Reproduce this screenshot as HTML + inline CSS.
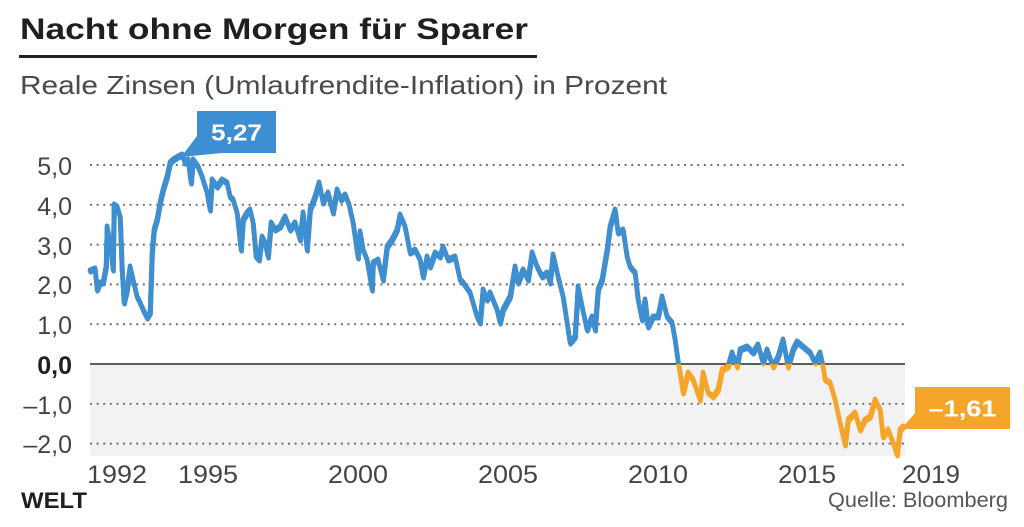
<!DOCTYPE html>
<html>
<head>
<meta charset="utf-8">
<style>
  html, body { margin:0; padding:0; background:#fff; }
  svg { display:block; }
  text { font-family: "Liberation Sans", "DejaVu Sans", sans-serif; }
</style>
</head>
<body>
<svg width="1024" height="527" viewBox="0 0 1024 527" xmlns="http://www.w3.org/2000/svg">
  <defs>
    <clipPath id="above"><rect x="0" y="0" width="1024" height="364"/></clipPath>
    <polyline id="ser" points="90,271 95,269 97,290 100,283 103,283 106,267 107,227 110,243 113,270 114,205 117,207 120,217 122,270 124,303 127,290 130,267 133,280 137,297 140,303 143,310 147,318 150,313 152,253 154,230 157,220 160,203 163,190 167,177 170,163 173,160 178,157 182,155 185,163 188,160 191,183 193,160 198,167 202,177 207,193 210,210 212,180 217,187 222,180 227,183 230,197 233,200 237,213 241,250 243,220 247,213 250,210 253,223 256,257 259,260 262,237 265,243 268,257 271,223 275,230 280,227 285,217 290,230 295,223 300,240 303,213 307,250 310,210 315,197 319,183 323,203 328,193 333,213 337,190 341,200 345,195 349,205 353,223 358,258 360,232 363,250 367,260 372,290 373,263 378,260 383,280 387,247 392,240 397,230 400,215 405,227 410,253 415,250 420,260 423,277 427,257 430,267 435,253 440,257 443,247 448,260 455,257 460,280 463,283 470,293 477,317 480,323 483,290 487,300 490,293 497,310 500,323 503,310 510,297 515,267 518,283 523,270 528,280 532,253 537,267 542,277 547,273 550,283 553,255 558,277 563,297 567,323 570,343 575,337 578,287 582,307 587,330 592,317 595,330 598,290 602,280 607,250 610,227 615,210 618,233 623,230 627,257 630,267 635,273 638,300 642,320 645,300 648,327 653,317 658,317 662,297 667,317 672,323 675,340 678,362 680,373 683,393 688,373 693,380 700,400 703,373 708,393 713,397 718,390 722,370 728,367 732,353 737,367 740,350 747,347 753,353 758,345 763,363 767,350 773,367 778,357 783,340 788,367 793,350 797,342 803,347 810,353 815,363 820,353 823,367 825,380 830,383 835,400 840,423 845,445 848,420 855,413 860,430 865,420 870,417 875,400 880,410 883,437 888,430 893,443 897,455 900,430 903,427"/>
    <g id="band">
      <use href="#ser" transform="translate(0,-1.3)"/>
      <use href="#ser"/>
      <use href="#ser" transform="translate(0.6,1.3)"/>
    </g>
  </defs>

  <!-- Title -->
  <text x="20" y="39" font-size="30" font-weight="bold" fill="#1f1f1f" textLength="508" lengthAdjust="spacingAndGlyphs">Nacht ohne Morgen für Sparer</text>
  <rect x="19" y="55" width="518" height="3" fill="#222"/>
  <text x="20" y="94" font-size="26" fill="#4a4a4a" textLength="647" lengthAdjust="spacingAndGlyphs">Reale Zinsen (Umlaufrendite-Inflation) in Prozent</text>

  <!-- shaded negative area -->
  <rect x="90" y="364" width="815" height="92" fill="#f2f2f2"/>

  <!-- grid -->
  <g stroke="#6f6f6f" stroke-width="2.2" stroke-linecap="round" stroke-dasharray="0.1 6.5" fill="none">
    <line x1="91" y1="165" x2="905" y2="165"/>
    <line x1="91" y1="204.8" x2="905" y2="204.8"/>
    <line x1="91" y1="244.6" x2="905" y2="244.6"/>
    <line x1="91" y1="284.4" x2="905" y2="284.4"/>
    <line x1="91" y1="324.2" x2="905" y2="324.2"/>
    <line x1="91" y1="403.8" x2="905" y2="403.8"/>
    <line x1="91" y1="443.6" x2="905" y2="443.6"/>
  </g>
  <line x1="90" y1="364" x2="905" y2="364" stroke="#2a2a2a" stroke-width="1.6"/>

  <!-- y labels -->
  <g font-size="25" fill="#444" text-anchor="end">
    <text x="72" y="175">5,0</text>
    <text x="72" y="215">4,0</text>
    <text x="72" y="255">3,0</text>
    <text x="72" y="294">2,0</text>
    <text x="72" y="334">1,0</text>
    <text x="72" y="374" font-weight="bold" fill="#1f1f1f">0,0</text>
    <text x="72" y="414">–1,0</text>
    <text x="72" y="453">–2,0</text>
  </g>

  <!-- x labels -->
  <g font-size="25" fill="#444" text-anchor="middle">
    <text x="117" y="483" textLength="60" lengthAdjust="spacingAndGlyphs">1992</text>
    <text x="208" y="483" textLength="60" lengthAdjust="spacingAndGlyphs">1995</text>
    <text x="358" y="483" textLength="60" lengthAdjust="spacingAndGlyphs">2000</text>
    <text x="508" y="483" textLength="60" lengthAdjust="spacingAndGlyphs">2005</text>
    <text x="658" y="483" textLength="60" lengthAdjust="spacingAndGlyphs">2010</text>
    <text x="807" y="483" textLength="58" lengthAdjust="spacingAndGlyphs">2015</text>
    <text x="931" y="483" textLength="58" lengthAdjust="spacingAndGlyphs">2019</text>
  </g>

  <!-- series -->
  <g fill="none" stroke-width="4.4" stroke-linejoin="round" stroke-linecap="round">
    <use href="#band" stroke="#f4a52a"/>
    <use href="#band" stroke="#3d8fd1" clip-path="url(#above)"/>
  </g>

  <!-- annotation 5,27 -->
  <polygon points="197,136 222,153 181,157" fill="#3d8fd1"/>
  <rect x="197" y="111" width="79" height="42" fill="#3d8fd1"/>
  <text x="236.5" y="140.5" font-size="23" font-weight="bold" fill="#fff" text-anchor="middle" textLength="51" lengthAdjust="spacingAndGlyphs">5,27</text>

  <!-- annotation -1,61 -->
  <polygon points="916,412 916,429 901,429" fill="#f4a52a"/>
  <rect x="915" y="387" width="95" height="42" fill="#f4a52a"/>
  <text x="962.5" y="416.5" font-size="23" font-weight="bold" fill="#fff" text-anchor="middle" textLength="68" lengthAdjust="spacingAndGlyphs">–1,61</text>

  <!-- footer -->
  <text x="21" y="508" font-size="22" font-weight="bold" fill="#1f1f1f" textLength="66" lengthAdjust="spacingAndGlyphs">WELT</text>
  <text x="828" y="507" font-size="21" fill="#555" textLength="180" lengthAdjust="spacingAndGlyphs">Quelle: Bloomberg</text>
</svg>
</body>
</html>
